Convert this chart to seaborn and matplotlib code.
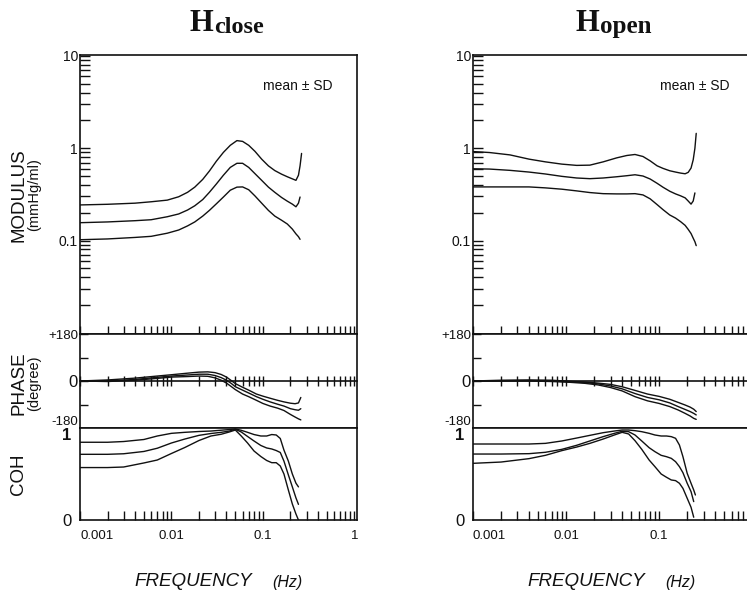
import numpy as np
import pandas as pd
import matplotlib
matplotlib.use("Agg")
import matplotlib.pyplot as plt
import seaborn as sns

sns.set_style("ticks")
SANS = ["Liberation Sans Narrow", "Liberation Sans", "DejaVu Sans"]
SERIF = ["Liberation Serif", "DejaVu Serif"]
plt.rcParams["font.family"] = SANS
NA = np.nan

# ---------------- data ----------------
# H close : modulus (mmHg/ml)  -- upper = mean+SD, mean, lower = mean-SD
close_mod_freq = [0.001, 0.002, 0.004, 0.006, 0.009, 0.012, 0.015, 0.018, 0.022,
                  0.026, 0.031, 0.037, 0.044, 0.052, 0.06, 0.07, 0.082, 0.097,
                  0.115, 0.135, 0.16, 0.185, 0.21, 0.23, 0.245, 0.255, 0.265]
close_mod_upper = [0.243, 0.247, 0.254, 0.263, 0.274, 0.298, 0.333, 0.379, 0.460,
                   0.566, 0.724, 0.902, 1.076, 1.210, 1.187, 1.076, 0.925, 0.762,
                   0.644, 0.573, 0.524, 0.491, 0.466, 0.449, 0.510, 0.644, 0.879]
close_mod_mean = [0.156, 0.159, 0.164, 0.168, 0.181, 0.194, 0.214, 0.238, 0.278,
                  0.333, 0.410, 0.510, 0.620, 0.687, 0.687, 0.620, 0.530, 0.449,
                  0.379, 0.333, 0.293, 0.267, 0.248, 0.232, 0.254, 0.296, NA]
close_mod_lower = [0.102, 0.104, 0.108, 0.111, 0.120, 0.130, 0.144, 0.159, 0.184,
                   0.212, 0.250, 0.296, 0.351, 0.379, 0.381, 0.355, 0.304, 0.254,
                   0.212, 0.184, 0.166, 0.151, 0.133, 0.118, 0.110, 0.103, NA]

# H close : phase (degree)
close_ph_freq = [0.001, 0.002, 0.004, 0.007, 0.01, 0.015, 0.02, 0.025, 0.03, 0.035,
                 0.04, 0.045, 0.05, 0.06, 0.07, 0.085, 0.1, 0.12, 0.145, 0.17, 0.2,
                 0.225, 0.245, 0.26]
close_ph_upper = [0, 4, 11, 19, 24, 30, 34, 35, 32, 25, 15, 2, -10, -24, -35, -50,
                  -58, -66, -74, -80, -85, -87, -84, -63]
close_ph_mean = [0, 0, 6, 14, 19, 23, 26, 26, 21, 13, 3, -9, -22, -35, -46, -60,
                 -70, -80, -89, -96, -106, -110, -112, -106]
close_ph_lower = [0, -2, 3, 10, 15, 17, 19, 18, 12, 3, -8, -21, -33, -50, -60, -74,
                  -86, -96, -104, -113, -128, -138, -145, -149]

# H close : coherence
close_coh_freq = [0.001, 0.002, 0.003, 0.005, 0.007, 0.01, 0.014, 0.02, 0.027, 0.035,
                  0.043, 0.05, 0.058, 0.068, 0.08, 0.095, 0.11, 0.125, 0.14, 0.155,
                  0.17, 0.19, 0.21, 0.23, 0.245]
close_coh_upper = [0.845, 0.845, 0.853, 0.875, 0.913, 0.942, 0.953, 0.962, 0.967,
                   0.976, 0.983, 0.99, 0.975, 0.953, 0.929, 0.913, 0.913, 0.929,
                   0.924, 0.886, 0.76, 0.64, 0.50, 0.40, 0.36]
close_coh_mean = [0.714, 0.714, 0.72, 0.745, 0.78, 0.837, 0.88, 0.92, 0.94, 0.953,
                  0.967, 0.986, 0.957, 0.908, 0.859, 0.81, 0.783, 0.772, 0.755,
                  0.734, 0.64, 0.49, 0.36, 0.24, 0.17]
close_coh_lower = [0.57, 0.57, 0.576, 0.62, 0.652, 0.723, 0.788, 0.864, 0.913, 0.932,
                   0.957, 0.978, 0.913, 0.837, 0.75, 0.69, 0.647, 0.623, 0.623,
                   0.587, 0.50, 0.326, 0.174, 0.065, 0.0]

# H open : modulus
open_mod_freq = [0.001, 0.0015, 0.0025, 0.004, 0.006, 0.009, 0.013, 0.018, 0.025,
                 0.035, 0.045, 0.055, 0.067, 0.08, 0.095, 0.11, 0.13, 0.15, 0.17,
                 0.19, 0.205, 0.22, 0.232, 0.242, 0.25]
open_mod_upper = [0.921, 0.899, 0.847, 0.762, 0.712, 0.673, 0.652, 0.656, 0.712,
                  0.787, 0.835, 0.856, 0.814, 0.730, 0.645, 0.605, 0.570, 0.552,
                  0.538, 0.529, 0.548, 0.610, 0.749, 1.0, 1.45]
open_mod_mean = [0.599, 0.595, 0.576, 0.552, 0.526, 0.496, 0.476, 0.468, 0.476,
                 0.491, 0.504, 0.516, 0.500, 0.464, 0.417, 0.378, 0.342, 0.320,
                 0.305, 0.290, 0.268, 0.248, 0.268, 0.328, NA]
open_mod_lower = [0.381, 0.381, 0.381, 0.381, 0.372, 0.360, 0.345, 0.331, 0.322,
                  0.320, 0.320, 0.322, 0.312, 0.283, 0.245, 0.216, 0.189, 0.175,
                  0.160, 0.146, 0.132, 0.119, 0.106, 0.097, 0.088]

# H open : phase
open_ph_freq = [0.001, 0.002, 0.004, 0.007, 0.011, 0.016, 0.022, 0.03, 0.04, 0.055,
                0.075, 0.1, 0.13, 0.16, 0.19, 0.215, 0.235, 0.25]
open_ph_upper = [0, 3, 4, 3, -1, -4, -8, -13, -22, -36, -50, -59, -70, -82, -92,
                 -100, -108, -117]
open_ph_mean = [0, 1, 2, 0, -3, -6, -11, -19, -30, -48, -63, -72, -84, -98, -109,
                -117, -124, -130]
open_ph_lower = [0, 0, 0, -2, -5, -9, -15, -25, -38, -60, -76, -86, -98, -111, -124,
                 -134, -143, -147]

# H open : coherence
open_coh_freq = [0.001, 0.002, 0.004, 0.006, 0.009, 0.013, 0.018, 0.025, 0.033, 0.04,
                 0.047, 0.055, 0.065, 0.078, 0.09, 0.105, 0.12, 0.135, 0.15, 0.165,
                 0.18, 0.2, 0.22, 0.235, 0.245]
open_coh_upper = [0.826, 0.826, 0.826, 0.833, 0.859, 0.891, 0.92, 0.949, 0.967, 0.978,
                  0.978, 0.971, 0.96, 0.942, 0.924, 0.913, 0.913, 0.906, 0.888,
                  0.815, 0.688, 0.507, 0.399, 0.326, 0.272]
open_coh_mean = [0.717, 0.717, 0.721, 0.736, 0.768, 0.812, 0.859, 0.906, 0.942, 0.964,
                 0.96, 0.924, 0.859, 0.786, 0.743, 0.703, 0.688, 0.670, 0.634, 0.58,
                 0.514, 0.399, 0.308, 0.2, NA]
open_coh_lower = [0.616, 0.63, 0.667, 0.703, 0.754, 0.793, 0.833, 0.88, 0.924, 0.953,
                  0.935, 0.862, 0.768, 0.652, 0.58, 0.50, 0.464, 0.435, 0.428, 0.399,
                  0.344, 0.236, 0.138, 0.03, NA]

x_major = [0.001, 0.01, 0.1, 1]
x_major_labels = ["0.001", "0.01", "0.1", "1"]
x_minor = [m * 10.0 ** k for k in (-3, -2, -1) for m in range(2, 10)]
mod_major = [0.1, 1, 10]
mod_major_labels = ["0.1", "1", "10"]
mod_minor = [m * 10.0 ** k for k in (-2, -1, 0) for m in range(2, 10)]
phase_ticks = [-180, -90, 0, 90, 180]
phase_labels = ["-180", "", "0", "", "+180"]

panels = {
    "close": dict(mod=(close_mod_freq, [close_mod_upper, close_mod_mean, close_mod_lower]),
                  ph=(close_ph_freq, [close_ph_upper, close_ph_mean, close_ph_lower]),
                  coh=(close_coh_freq, [close_coh_upper, close_coh_mean, close_coh_lower])),
    "open": dict(mod=(open_mod_freq, [open_mod_upper, open_mod_mean, open_mod_lower]),
                 ph=(open_ph_freq, [open_ph_upper, open_ph_mean, open_ph_lower]),
                 coh=(open_coh_freq, [open_coh_upper, open_coh_mean, open_coh_lower])),
}

# ---------------- figure ----------------
W, H = 747, 592
fig = plt.figure(figsize=(W / 100, H / 100), dpi=100)
fig.patch.set_facecolor("white")


def rect(x0, y0, x1, y1):
    return [x0 / W, 1 - y1 / H, (x1 - x0) / W, (y1 - y0) / H]


def fpx(x, y):
    return x / W, 1 - y / H


LW = 1.0
SPW = 1.2
INK = "#111111"


def draw_lines(ax, freq, series):
    for vals in series:
        df = pd.DataFrame({"freq": freq, "val": vals}).dropna()
        sns.lineplot(data=df, x="freq", y="val", ax=ax, color=INK, lw=LW,
                     estimator=None, sort=False)
    ax.set_xlabel("")
    ax.set_ylabel("")


def style_spines(ax):
    for s in ax.spines.values():
        s.set_visible(True)
        s.set_linewidth(SPW)
        s.set_color(INK)


columns = [("close", 80, 357), ("open", 473, 755)]
for name, x0, x1 in columns:
    d = panels[name]
    ax_m = fig.add_axes(rect(x0, 55, x1, 334))
    ax_p = fig.add_axes(rect(x0, 334, x1, 428))
    ax_c = fig.add_axes(rect(x0, 428, x1, 520))
    for ax in (ax_m, ax_p, ax_c):
        ax.set_xscale("log")
        ax.set_facecolor("white")

    draw_lines(ax_m, *d["mod"])
    draw_lines(ax_p, *d["ph"])
    draw_lines(ax_c, *d["coh"])

    for ax in (ax_m, ax_p, ax_c):
        ax.set_xlim(0.001, 1.07)
        style_spines(ax)

    # modulus
    ax_m.set_yscale("log")
    ax_m.set_ylim(0.0097, 10.25)
    ax_m.set_yticks(mod_major, mod_major_labels)
    ax_m.set_yticks(mod_minor, minor=True)
    ax_m.set_yticklabels([], minor=True)
    ax_m.tick_params(axis="y", which="both", direction="in", length=7, width=1.0,
                     left=True, right=False, labelsize=10, pad=1.5, colors=INK)
    ax_m.set_xticks(x_major)
    ax_m.set_xticks(x_minor, minor=True)
    ax_m.tick_params(axis="x", which="both", direction="in", length=6, width=1.0,
                     bottom=True, top=False, labelbottom=False, colors=INK)
    ax_m.text(0.91, 0.89, "mean \u00b1 SD", transform=ax_m.transAxes, ha="right",
              va="center", fontsize=10, color=INK)

    # phase
    ax_p.set_ylim(-180, 180)
    ax_p.set_yticks(phase_ticks, phase_labels)
    ax_p.tick_params(axis="y", direction="in", length=6, width=1.0, pad=1.5,
                     labelsize=9.5, colors=INK)
    for lab, tv in zip(ax_p.get_yticklabels(), phase_ticks):
        if tv == -180:
            lab.set_va("bottom")
        if tv == 0:
            lab.set_fontsize(12)
    ax_p.tick_params(axis="x", which="both", bottom=False, top=False,
                     labelbottom=False)
    zero = ax_p.secondary_xaxis(0.5)
    zero.set_xticks(x_major, ["", "", "", ""])
    zero.set_xticks(x_minor, minor=True)
    zero.tick_params(axis="x", which="both", direction="inout", length=7,
                     width=1.0, colors=INK)
    for s in zero.spines.values():
        s.set_linewidth(SPW)
        s.set_color(INK)

    # coherence
    ax_c.set_ylim(0, 1)
    ax_c.set_yticks([0, 1], ["0", "1"])
    ax_c.tick_params(axis="y", length=0, pad=6, labelsize=12, colors=INK)
    for lab, tv in zip(ax_c.get_yticklabels(), [0, 1]):
        if tv == 1:
            lab.set_va("top")
            lab.set_fontweight("bold")
    ax_c.set_xticks(x_major, x_major_labels)
    ax_c.set_xticks(x_minor, minor=True)
    ax_c.set_xticklabels([], minor=True)
    ax_c.tick_params(axis="x", which="both", direction="in", length=6.5,
                     width=1.0, pad=7, labelsize=9.5, colors=INK)
    ax_c.get_xticklabels()[0].set_ha("left")

    # frequency label
    fig.text(*fpx(x0 + 113, 582), "FREQUENCY", ha="center", va="center",
             fontsize=13.5, style="italic", color=INK)
    fig.text(*fpx(x0 + 207, 582), "(Hz)", ha="center", va="center",
             fontsize=11.5, style="italic", color=INK)

# titles
fig.text(*fpx(213, 31), "H", ha="right", va="baseline", fontsize=22,
         fontweight="bold", family=SERIF, color=INK)
fig.text(*fpx(214, 33), "close", ha="left", va="baseline", fontsize=17.5,
         fontweight="bold", family=SERIF, color=INK)
fig.text(*fpx(599, 31), "H", ha="right", va="baseline", fontsize=22,
         fontweight="bold", family=SERIF, color=INK)
fig.text(*fpx(600, 33), "open", ha="left", va="baseline", fontsize=18,
         fontweight="bold", family=SERIF, color=INK)

# y labels (left column)
fig.text(*fpx(19, 195), "MODULUS", rotation=90, ha="center", va="center",
         fontsize=13.5, color=INK)
fig.text(*fpx(34, 195), "(mmHg/ml)", rotation=90, ha="center", va="center",
         fontsize=10.5, color=INK)
fig.text(*fpx(19, 383), "PHASE", rotation=90, ha="center", va="center",
         fontsize=13.5, color=INK)
fig.text(*fpx(34, 383), "(degree)", rotation=90, ha="center", va="center",
         fontsize=10.5, color=INK)
fig.text(*fpx(19, 474), "COH", rotation=90, ha="center", va="center",
         fontsize=13.5, color=INK)

fig.savefig("out.png", dpi=100, facecolor="white")
